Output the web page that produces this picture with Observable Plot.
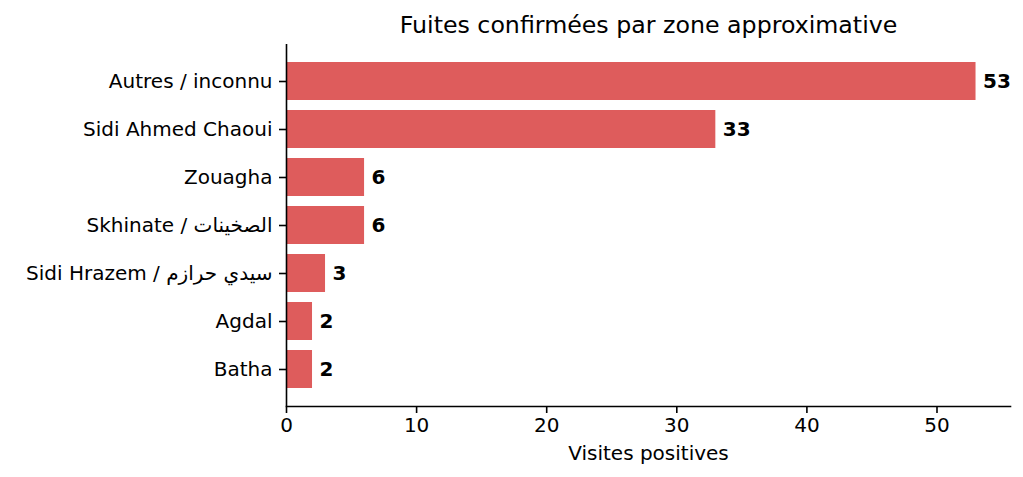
<!DOCTYPE html>
<html><head><meta charset="utf-8">
<script src="https://cdn.jsdelivr.net/npm/d3@7"></script>
<script src="https://cdn.jsdelivr.net/npm/@observablehq/plot@0.6"></script>
<style>html,body{margin:0;padding:0;background:#fff} #chart svg{display:block}</style>
</head><body><div id="chart"></div>
<script>
const zones = ["Autres / inconnu", "Sidi Ahmed Chaoui", "Zouagha", "Skhinate / الصخينات", "Sidi Hrazem / سيدي حرازم", "Agdal", "Batha"];
const visits = [53, 33, 6, 6, 3, 2, 2];
const xTicks = [0, 10, 20, 30, 40, 50];
const title = "Fuites confirmées par zone approximative";
const xLabel = "Visites positives";

const data = zones.map((z, i) => ({zone: z, v: visits[i]}));

const chart = Plot.plot({
  width: 1023, height: 477,
  marginLeft: 286, marginRight: 13, marginTop: 44, marginBottom: 71,
  style: {fontFamily: "DejaVu Sans", fontSize: "20px", color: "#000", background: "#fff"},
  x: {domain: [0, d3.max(visits) * 1.05]},
  y: {domain: zones, paddingInner: 0.2, paddingOuter: 0.34},
  marks: [
    Plot.barX(data, {x: "v", y: "zone", fill: "#DE5C5C"}),
    Plot.text(data, {x: "v", y: "zone", text: d => String(d.v), dx: 7, textAnchor: "start", fontWeight: "bold", fontSize: 20, fill: "#000"}),
    Plot.axisX({ticks: xTicks, tickSize: 7, tickPadding: 4, strokeWidth: 1.6, label: null, fontSize: 20}),
    Plot.axisY({tickSize: 7, tickPadding: 7, strokeWidth: 1.6, label: null, fontSize: 20}),
    Plot.ruleX([0], {strokeWidth: 1.6}),
    Plot.frame({anchor: "bottom", strokeWidth: 1.6}),
    Plot.text([title], {frameAnchor: "top", dy: -28, fontSize: 23.7}),
    Plot.text([xLabel], {frameAnchor: "bottom", dy: 53, fontSize: 20})
  ]
});
document.getElementById("chart").appendChild(chart);
</script>
</body></html>
